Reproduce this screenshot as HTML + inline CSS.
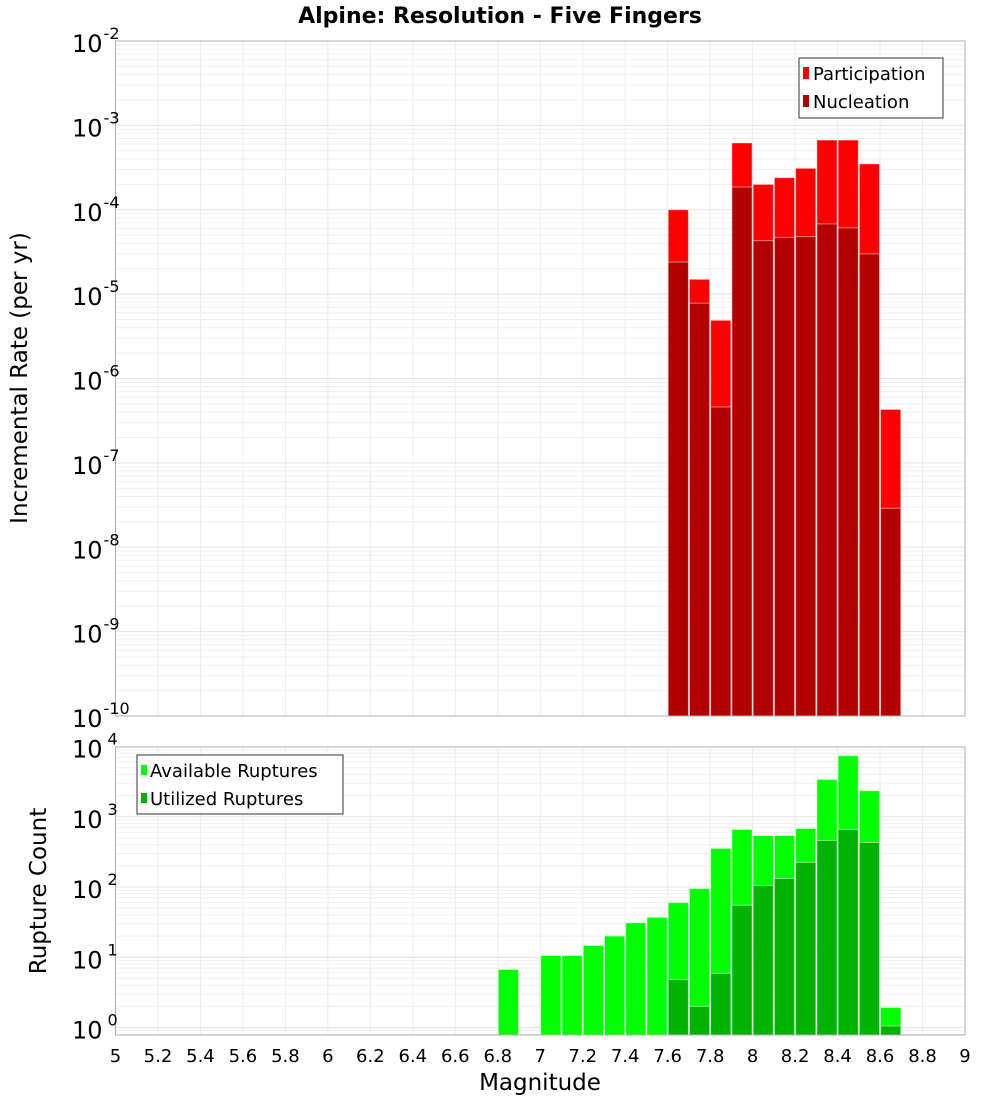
<!DOCTYPE html>
<html><head><meta charset="utf-8"><style>
body{margin:0;background:#fff;font-family:"DejaVu Sans","Liberation Sans",sans-serif;}
svg text{font-family:"DejaVu Sans","Liberation Sans",sans-serif;}
</style></head><body>
<svg id="chart" width="1000" height="1100" xmlns="http://www.w3.org/2000/svg">
<text x="500" y="23" text-anchor="middle" font-size="22" font-weight="bold">Alpine: Resolution - Five Fingers</text>
<g id="topPanel"></g>
<g id="botPanel"></g>
<text transform="translate(27,378) rotate(-90)" text-anchor="middle" font-size="23">Incremental Rate (per yr)</text>
<text transform="translate(46,891) rotate(-90)" text-anchor="middle" font-size="23">Rupture Count</text>
<text x="540" y="1090" text-anchor="middle" font-size="23">Magnitude</text>
</svg>
<script>
const topMags=[7.65,7.75,7.85,7.95,8.05,8.15,8.25,8.35,8.45,8.55,8.65];
const participation=[1.0e-4,1.5e-5,4.9e-6,6.2e-4,2.0e-4,2.4e-4,3.1e-4,6.7e-4,6.7e-4,3.5e-4,4.3e-7];
const nucleation=[2.4e-5,7.8e-6,4.6e-7,1.86e-4,4.3e-5,4.7e-5,4.8e-5,6.8e-5,6.1e-5,3.0e-5,2.9e-8];
const botMags=[6.85,7.05,7.15,7.25,7.35,7.45,7.55,7.65,7.75,7.85,7.95,8.05,8.15,8.25,8.35,8.45,8.55,8.65];
const available=[6.7,10.6,10.6,14.7,20,31,37,60,95,355,660,540,540,680,3400,7400,2350,1.93];
const utilizedMags=[7.65,7.75,7.85,7.95,8.05,8.15,8.25,8.35,8.45,8.55,8.65];
const utilized=[4.8,2,5.9,55,105,132,224,460,660,430,1.05];
const xTicks=["5","5.2","5.4","5.6","5.8","6","6.2","6.4","6.6","6.8","7","7.2","7.4","7.6","7.8","8","8.2","8.4","8.6","8.8","9"];
const topExps=[-2,-3,-4,-5,-6,-7,-8,-9,-10];
const botExps=[0,1,2,3,4];

const NS="http://www.w3.org/2000/svg";
const X0=115.5,X1=965;
const xs=m=>X0+(m-5)/4*(X1-X0);
function mk(p,t,a){const e=document.createElementNS(NS,t);for(const k in a)e.setAttribute(k,a[k]);p.appendChild(e);return e;}
const T={y0:41,y1:716,lo:-10,hi:-2},B={y0:747,y1:1035,top:746.5,perDec:70.25};
const ty=v=>T.y1-(Math.log10(v)-T.lo)/(T.hi-T.lo)*(T.y1-T.y0);
const by=v=>(B.top+4*B.perDec)-Math.log10(v)*B.perDec;
const topG=document.getElementById('topPanel'),botG=document.getElementById('botPanel');

function grid(g,y0,y1,yf,decs){
  for(let i=0;i<xTicks.length;i++){const x=xs(5+i*0.2);const l=mk(g,'line',{x1:x,x2:x,y1:y0,y2:y1,stroke:'#ebebeb'});
  
  }
  decs.forEach(d=>{for(let k=1;k<10;k++){const y=yf(k*Math.pow(10,d));if(y<y0-0.1||y>y1+0.1)continue;
    const l=mk(g,'line',{x1:X0,x2:X1,y1:y,y2:y,stroke:k==1?'#e4e4e4':'#efefef'});
    
    }});
}
function frame(g,y0,y1){const r=mk(g,'rect',{x:X0,y:y0,width:X1-X0,height:y1-y0,fill:'none',stroke:'#b0b0b0'});

}
function bars(g,mags,vals,yf,yb,color,name){
  mags.forEach((m,i)=>{const xa=xs(m-0.05),xb=xs(m+0.05);const y=yf(vals[i]);
    const r=mk(g,'rect',{x:xa+0.5,y:y,width:xb-xa-1,height:yb-y,fill:color,stroke:'#ffffff','stroke-opacity':0.5,'stroke-width':1});
    
    });
}

// top panel
grid(topG,T.y0,T.y1,ty,[-10,-9,-8,-7,-6,-5,-4,-3]);
bars(topG,topMags,participation,ty,T.y1,'#ff0000','participation-bar');
bars(topG,topMags,nucleation,ty,T.y1,'#b30000','nucleation-bar');
frame(topG,T.y0,T.y1);
topExps.forEach(e=>{const y=ty(Math.pow(10,e));const t=mk(topG,'text',{x:72,y:y+11,'font-size':24});t.textContent='10';
  const s=mk(t,'tspan',{dy:-13,'font-size':16,dx:1});s.textContent=String(e);
  
  });
const lg=mk(topG,'g',{});


mk(lg,'rect',{x:799,y:58,width:144,height:60,fill:'#fff',stroke:'#333'});
mk(lg,'rect',{x:803,y:67,width:6,height:12,fill:'#ff0000'});
mk(lg,'rect',{x:803,y:95,width:6,height:12,fill:'#b30000'});
let t1=mk(lg,'text',{x:813,y:80,'font-size':18});t1.textContent='Participation';
let t2=mk(lg,'text',{x:813,y:108,'font-size':18});t2.textContent='Nucleation';

// bottom panel
grid(botG,B.y0,B.y1,by,[-1,0,1,2,3]);
bars(botG,botMags,available,by,B.y1,'#00ff00','available-bar');
bars(botG,utilizedMags,utilized,by,B.y1,'#00b300','utilized-bar');
frame(botG,B.y0,B.y1);
botExps.forEach(e=>{const y=by(Math.pow(10,e));const t=mk(botG,'text',{x:72,y:y+11,'font-size':24});t.textContent='10';
  const s=mk(t,'tspan',{dy:-13,'font-size':16,dx:5});s.textContent=String(e);
  
  });
const lg2=mk(botG,'g',{});


mk(lg2,'rect',{x:137,y:755,width:206,height:59,fill:'#fff',stroke:'#333'});
mk(lg2,'rect',{x:141,y:765,width:6,height:10,fill:'#00ff00'});
mk(lg2,'rect',{x:141,y:793,width:6,height:10,fill:'#00b300'});
let t3=mk(lg2,'text',{x:150,y:777,'font-size':18});t3.textContent='Available Ruptures';
let t4=mk(lg2,'text',{x:150,y:805,'font-size':18});t4.textContent='Utilized Ruptures';
xTicks.forEach((s,i)=>{const t=mk(botG,'text',{x:xs(5+i*0.2),y:1062,'text-anchor':'middle','font-size':18});t.textContent=s;
  
  });
</script>
</body></html>
